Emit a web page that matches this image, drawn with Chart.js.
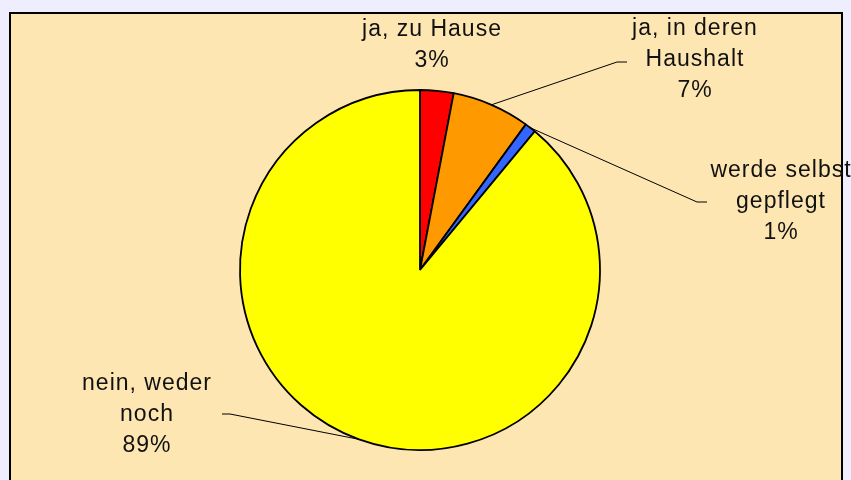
<!DOCTYPE html>
<html>
<head>
<meta charset="utf-8">
<script src="https://cdn.jsdelivr.net/npm/chart.js@4/dist/chart.umd.min.js"></script>
<style>
  body { margin: 0; background: #eeeeff; }
  #wrap { width: 851px; height: 480px; }
</style>
</head>
<body>
<div id="wrap"><canvas id="pie" width="851" height="480"></canvas></div>
<script>
// data
const categories = ['ja, zu Hause', 'ja, in deren Haushalt', 'werde selbst gepflegt', 'nein, weder noch'];
const labelLines = [['ja, zu Hause'], ['ja, in deren', 'Haushalt'], ['werde selbst', 'gepflegt'], ['nein, weder', 'noch']];
const values = [3, 7, 1, 89];
const colors = ['#ff0000', '#ff9900', '#3366ff', '#ffff00'];

// label placement (centre of first line) and leader line elbows
const labelLayout = [
  { x: 432, y: 30, leader: null },
  { x: 695, y: 29, leader: [[617, 62], [627, 62]] },
  { x: 781, y: 171, leader: [[697, 202], [707, 202]] },
  { x: 147, y: 384, leader: [[230, 414], [222, 414]] }
];

const frame = {
  id: 'frame',
  beforeDraw(chart) {
    const ctx = chart.ctx;
    ctx.save();
    ctx.fillStyle = '#eeeeff';
    ctx.fillRect(0, 0, chart.width, chart.height);
    ctx.fillStyle = '#fde6b1';
    ctx.fillRect(10, 13, 832, 480);
    ctx.strokeStyle = '#000000';
    ctx.lineWidth = 2;
    ctx.strokeRect(10, 13, 832, 480);
    ctx.restore();
  }
};

const pieLabels = {
  id: 'pieLabels',
  afterDraw(chart) {
    const ctx = chart.ctx;
    const arcs = chart.getDatasetMeta(0).data;
    ctx.save();
    arcs.forEach((arc, i) => {
      const lay = labelLayout[i];
      if (lay.leader) {
        const mid = (arc.startAngle + arc.endAngle) / 2;
        const ax = arc.x + arc.outerRadius * Math.cos(mid);
        const ay = arc.y + arc.outerRadius * Math.sin(mid);
        ctx.beginPath();
        ctx.strokeStyle = '#000000';
        ctx.lineWidth = 1;
        ctx.moveTo(ax, ay);
        lay.leader.forEach(p => ctx.lineTo(p[0], p[1]));
        ctx.stroke();
      }
      ctx.fillStyle = '#111111';
      ctx.font = '23px "Liberation Sans", Arial, sans-serif';
      ctx.letterSpacing = '1px';
      ctx.textAlign = 'center';
      ctx.textBaseline = 'middle';
      const lines = labelLines[i].concat([values[i] + '%']);
      lines.forEach((t, k) => {
        ctx.fillText(t, lay.x, lay.y + k * 31);
      });
    });
    ctx.restore();
  }
};

new Chart(document.getElementById('pie'), {
  type: 'pie',
  data: {
    labels: categories,
    datasets: [{
      data: values,
      backgroundColor: colors,
      borderColor: '#000000',
      borderWidth: 1.8
    }]
  },
  options: {
    responsive: false,
    animation: false,
    events: [],
    radius: 180,
    layout: { padding: { top: 90, bottom: 30, left: 240, right: 251 } },
    plugins: {
      legend: { display: false },
      tooltip: { enabled: false }
    }
  },
  plugins: [frame, pieLabels]
});
</script>
</body>
</html>
